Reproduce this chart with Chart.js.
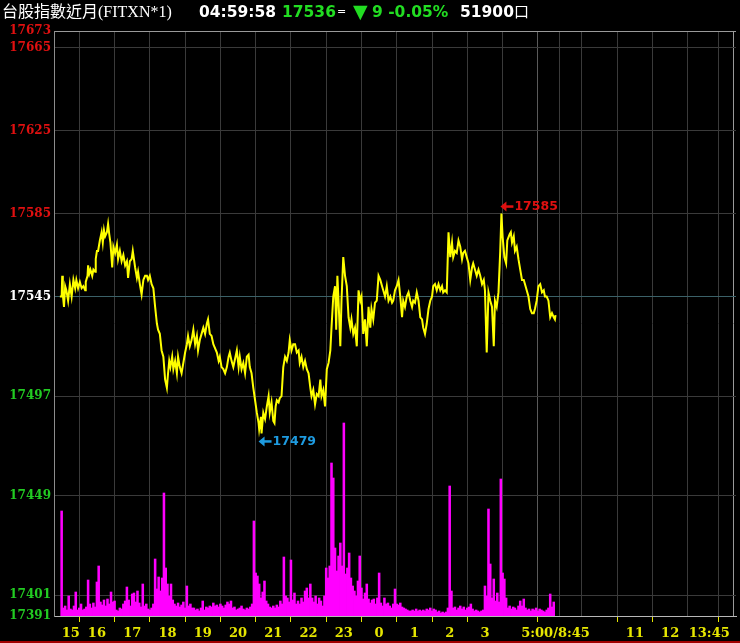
<!DOCTYPE html>
<html><head><meta charset="utf-8">
<script src="https://cdn.jsdelivr.net/npm/chart.js@4.4.0/dist/chart.umd.min.js"></script>
<style>
html,body{margin:0;padding:0;background:#000;overflow:hidden}
#wrap{position:relative;width:740px;height:643px;background:#000}
canvas{display:block}
#redline{position:absolute;left:0;top:641px;width:740px;height:2px;background:#a00000}
</style></head><body>
<div id="wrap"><canvas id="c" width="740" height="643"></canvas><div id="redline"></div></div>
<script>
// ---- header texts ----
const titleText = '台股指數近月(FITXN*1)';
const clockText = '04:59:58';
const lastPriceText = '17536';
const changeText = '9 -0.05%';
const volumeText = '51900';

// ---- price series (minutes after 15:00 night session open; 840 = 5:00) ----
const priceTimes = [
-3,0,1,2,4,6,8,11,14,17,20,23,25,28,31,34,37,40,41,44,45,47,49,52,54,57,58,60,62,65,68,70,72,74,77,79,81,83,86,88,91,94,96,99,102,105,108,111,113,116,119,121,123,125,128,130,133,136,139,142,145,147,150,153,156,159,162,164,167,170,173,176,179,181,183,185,188,190,193,196,198,201,204,207,210,213,215,218,221,224,227,230,232,235,238,241,244,247,249,252,255,258,261,264,267,269,272,275,278,281,284,286,289,292,295,
298,301,303,306,309,312,315,318,320,323,326,329,332,335,336,339,340,343,346,349,352,354,357,360,362,364,366,369,371,374,377,380,383,386,388,391,394,397,400,403,405,408,411,414,417,420,423,425,428,431,434,437,440,442,445,448,451,454,457,459,
462,465,467,469,471,474,476,479,482,485,488,491,493,496,499,502,505,508,510,513,516,519,522,525,527,530,533,536,539,542,545,547,550,553,556,559,562,564,567,570,573,576,579,581,584,587,590,593,596,598,601,604,607,610,613,615,618,621,624,627,630,632,635,638,641,644,647,649,652,655,658,661,664,666,669,672,675,678,681,683,686,689,692,695,698,700,703,706,709,712,715,718,720,723,726,729,732,735,737,740,743,746,748,750,753,756,758,762,764,766,769,771,774,777,780,783,786,788,791,794,797,800,803,805,808,811,814,817,820,822,825,828,831,834,837,839,840];
const priceValues = [
17545,17545,17555,17546,17540,17550,17548,17543,17551,17545,17553,17549,17553,17549,17552,17549,17550,17548,17552,17555,17560,17556,17558,17555,17558,17557,17563,17567,17567,17572,17576,17571,17577,17574,17576,17580,17575,17571,17559,17569,17566,17570,17563,17567,17562,17565,17560,17562,17554,17562,17563,17567,17563,17559,17554,17557,17551,17546,17553,17555,17555,17553,17555,17551,17549,17540,17532,17529,17527,17519,17516,17505,17501,17508,17514,17511,17516,17510,17514,17508,17516,17511,17508,17513,17518,17522,17526,17521,17524,17529,17522,17526,17519,17524,17527,17530,17527,17532,17534,17527,17526,17522,17520,17518,17514,17516,17511,17510,17508,17511,17516,17518,17514,17511,17515,
17519,17511,17516,17510,17513,17508,17516,17517,17511,17508,17501,17495,17489,17484,17481,17487,17479,17489,17486,17492,17497,17489,17494,17485,17484,17492,17495,17494,17496,17497,17511,17516,17514,17518,17524,17519,17522,17522,17518,17519,17513,17516,17511,17514,17510,17508,17501,17497,17500,17493,17498,17497,17505,17497,17500,17492,17510,17513,17519,17530,
17545,17550,17529,17555,17543,17521,17543,17564,17555,17550,17535,17530,17534,17527,17530,17521,17548,17543,17545,17527,17534,17521,17540,17530,17539,17534,17542,17543,17555,17553,17550,17548,17545,17550,17543,17545,17542,17543,17548,17550,17553,17545,17535,17543,17540,17545,17547,17543,17540,17543,17542,17547,17543,17535,17534,17530,17527,17532,17539,17543,17545,17550,17551,17548,17551,17548,17550,17547,17548,17547,17576,17564,17571,17564,17567,17566,17572,17569,17563,17566,17567,17564,17561,17553,17559,17561,17558,17555,17558,17555,17551,17553,17548,17518,17547,17543,17540,17521,17543,17540,17547,17567,17585,17574,17564,17561,17572,17575,17576,17571,17574,17567,17569,17563,17558,17553,17553,17551,17548,17545,17539,17537,17537,17539,17543,17550,17551,17547,17548,17545,17545,17543,17535,17537,17535,17534,17536];

// ---- volume per 3-minute bucket (lots), night session 15:00-5:00, one row per hour ----
const volBucketMinutes = 3;
const volumes = [
1050,80,100,60,200,70,60,100,240,60,80,120,60,70,90,360,120,80,130,90,
340,500,140,110,160,100,170,120,240,140,150,60,50,80,70,120,150,290,160,100,
220,230,140,250,130,90,320,100,120,70,60,80,120,570,270,390,250,380,1230,480,
320,200,320,160,120,100,130,90,110,140,80,300,100,120,80,80,60,70,50,80,
150,60,90,80,100,90,130,100,110,90,120,100,80,110,140,120,150,80,90,60,
70,80,100,70,60,80,70,90,120,950,430,400,320,180,240,350,150,120,90,80,
100,80,110,90,150,120,590,200,180,140,560,160,230,120,150,120,180,140,250,280,
180,320,180,140,200,120,180,150,100,200,480,380,500,1530,1380,680,450,600,730,500,
1930,420,480,630,380,300,250,200,350,600,280,170,230,320,170,130,160,170,120,180,
430,130,100,180,120,130,100,80,120,270,120,110,130,90,80,70,60,50,50,60,
50,70,50,60,50,60,50,70,60,80,50,70,60,40,50,30,40,30,40,80,
1300,250,80,90,60,80,100,70,90,60,80,90,120,70,50,60,50,40,50,60,
300,200,1070,520,180,370,150,230,140,1370,430,370,180,80,100,70,90,80,60,100,
150,100,170,80,60,70,50,70,60,80,50,70,60,50,40,60,80,220,90,140];

// ---- axes ----
const yTickValues = [17391,17401,17449,17497,17545,17585,17625,17665,17673];
const refPrice = 17545;
const xMin = -13, xMax = 1147;
const xTickMinutes = [0,60,120,180,240,300,360,420,480,540,600,660,720,780,840,855,915,975,1035,1095,1140];
const xTickLabels = ['    15','16','17','18','19','20','21','22','23','0','1','2','3','','5:00/8:45','','','11','12','','13:45          '];
const volMax = 5850;

const RED = '#e01010', GREEN = '#22cc22', YEL = '#e6e600';

const headerPlugin = {
  id: 'hdr',
  afterDraw(chart) {
    const ctx = chart.ctx;
    ctx.save();
    ctx.textBaseline = 'alphabetic';
    ctx.textAlign = 'left';
    ctx.fillStyle = '#ffffff';
    ctx.font = "16px 'Liberation Serif', 'Noto Sans CJK TC'";
    ctx.fillText(titleText, 2, 17);
    ctx.font = "bold 15.5px 'DejaVu Sans'";
    ctx.fillText(clockText, 199, 17);
    ctx.fillStyle = '#22dd22';
    ctx.fillText(lastPriceText, 282, 17);
    ctx.fillStyle = '#ffffff';
    ctx.font = "11px 'DejaVu Sans'";
    ctx.fillText('=', 337, 15);
    ctx.fillStyle = '#22dd22';
    ctx.font = "19px 'DejaVu Sans'";
    ctx.fillText('▼', 353, 18);
    ctx.font = "bold 15.5px 'DejaVu Sans'";
    ctx.fillText(changeText, 372, 17);
    ctx.fillStyle = '#ffffff';
    ctx.fillText(volumeText, 460, 17);
    ctx.font = "15px 'Noto Sans CJK TC'";
    ctx.fillText('口', 514, 17);

    // high / low annotations
    const xs = chart.scales.x, ys = chart.scales.y;
    const hi = Math.max(...priceValues), lo = Math.min(...priceValues);
    const iHi = priceValues.indexOf(hi), iLo = priceValues.indexOf(lo);
    const drawNote = (txt, x, y, col) => {
      ctx.fillStyle = col;
      ctx.beginPath();
      ctx.moveTo(x, y);
      ctx.lineTo(x + 6, y - 5);
      ctx.lineTo(x + 6, y + 5);
      ctx.closePath();
      ctx.fill();
      ctx.fillRect(x + 5, y - 1.25, 8, 2.5);
      ctx.font = "bold 12.5px 'DejaVu Sans'";
      ctx.fillText(txt, x + 14, y);
    };
    ctx.textBaseline = 'middle';
    drawNote(String(hi), xs.getPixelForValue(priceTimes[iHi]) - 1, ys.getPixelForValue(hi) - 7, RED);
    drawNote(String(lo), xs.getPixelForValue(priceTimes[iLo]) - 3, ys.getPixelForValue(lo) + 8, '#1e9be0');
    ctx.restore();
  }
};

const labelOf = (v) => { const i = xTickMinutes.indexOf(v); return i >= 0 ? xTickLabels[i] : ''; };

new Chart(document.getElementById('c'), {
  type: 'line',
  data: {
    datasets: [
      {
        type: 'line',
        data: priceTimes.map((t, i) => ({ x: t, y: priceValues[i] })),
        xAxisID: 'x', yAxisID: 'y',
        borderColor: '#ffff00', borderWidth: 2,
        pointRadius: 0, tension: 0, order: 0
      },
      {
        type: 'bar',
        data: volumes.map((v, i) => ({ x: i * volBucketMinutes, y: v })),
        xAxisID: 'x', yAxisID: 'yv',
        backgroundColor: '#ff00ff', borderWidth: 0,
        barThickness: 1.9, grouped: false, order: 1
      }
    ]
  },
  options: {
    responsive: false, animation: false, devicePixelRatio: 1, events: [],
    layout: { padding: { left: 0, top: 31, right: 4, bottom: 0 } },
    plugins: { legend: { display: false }, tooltip: { enabled: false } },
    scales: {
      x: {
        type: 'linear', position: 'bottom', min: xMin, max: xMax, offset: false,
        afterBuildTicks(s) { s.ticks = xTickMinutes.concat([xMax]).map(v => ({ value: v })); },
        afterFit(s) { s.height = 27; s.paddingLeft = 0; s.paddingRight = 0; },
        ticks: {
          autoSkip: false, maxRotation: 0, minRotation: 0, padding: 4,
          color: YEL, font: { family: 'DejaVu Serif', weight: 'bold', size: 13 },
          callback: (v) => labelOf(v)
        },
        grid: {
          color: (c) => c.tick && c.tick.value === xMax ? '#9a9a9a' : (c.tick && c.tick.value === 840 ? '#5a5a5a' : '#3a3a3a'),
          tickColor: (c) => (c.tick && labelOf(c.tick.value).trim() !== '') ? YEL : 'rgba(0,0,0,0)',
          tickLength: 6, lineWidth: 1, drawTicks: true
        },
        border: { color: '#b8b8b8', width: 1 }
      },
      y: {
        type: 'linear', position: 'left', min: 17391, max: 17673,
        afterBuildTicks(s) { s.ticks = yTickValues.map(v => ({ value: v })); },
        afterFit(s) { s.width = 54; s.paddingTop = 0; s.paddingBottom = 0; },
        ticks: {
          autoSkip: false, padding: 3,
          font: { family: 'DejaVu Serif', weight: 'bold', size: 12 },
          color: (c) => { const v = c.tick.value; return v > refPrice ? RED : (v === refPrice ? '#ffffff' : GREEN); },
          callback: (v) => String(v)
        },
        grid: {
          drawTicks: false,
          color: (c) => { const v = c.tick && c.tick.value; return v === 17673 ? '#9a9a9a' : v === refPrice ? '#3b6168' : v === 17391 ? '#b8b8b8' : '#3a3a3a'; }
        },
        border: { color: '#8c8c8c', width: 1 }
      },
      yv: { type: 'linear', display: false, min: 0, max: volMax }
    }
  },
  plugins: [headerPlugin]
});
</script>
</body></html>
